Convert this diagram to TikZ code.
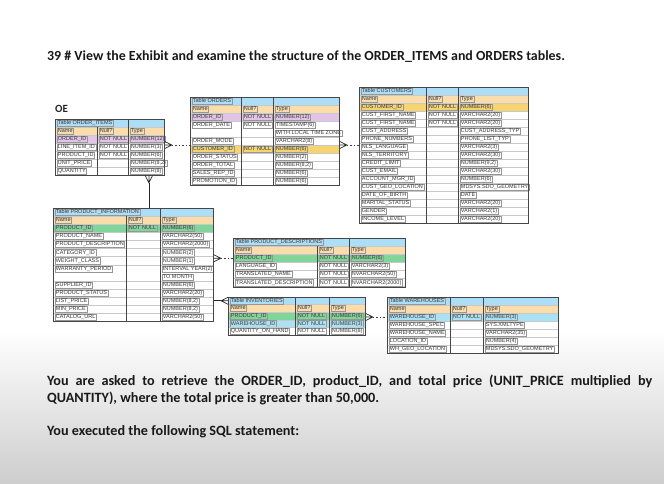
\documentclass[tikz,border=0pt]{standalone}
\usepackage{fontspec}
\setmainfont{Carlito}
\newfontfamily\tblfont{Liberation Sans}

\definecolor{titleblue}{RGB}{173,222,247}
\definecolor{headpeach}{RGB}{250,221,170}
\definecolor{pkpink}{RGB}{226,196,232}
\definecolor{custyellow}{RGB}{246,212,112}
\definecolor{prodgreen}{RGB}{128,214,152}
\definecolor{whcyan}{RGB}{170,226,245}
\definecolor{tblborder}{RGB}{70,70,70}
\definecolor{sepgray}{RGB}{200,200,200}
\definecolor{boxgray}{RGB}{150,150,150}
\definecolor{celltxt}{RGB}{55,55,55}
\definecolor{bgshade}{RGB}{205,205,205}

\tikzset{
  qtext/.style={anchor=west, inner sep=0, text=black!90,
                font=\bfseries\fontsize{13.9}{17}\selectfont},
  asktext/.style={qtext, font=\bfseries\fontsize{14.2}{17}\selectfont},
  tblrow/.style={anchor=north west, inner sep=0, outer sep=0,
                 draw=sepgray, line width=0.3pt},
  tblframe/.style={anchor=north west, inner sep=0, draw=tblborder, line width=0.9pt},
  tbldiv/.style={draw=tblborder, line width=0.7pt},
  celltext/.style={anchor=west, draw=boxgray, line width=0.25pt, text=celltxt,
                   inner xsep=0.8pt, inner ysep=0.5pt, text height=4.1pt, text depth=1.1pt,
                   font=\tblfont\fontsize{5.5}{6}\selectfont},
  plainrow/.style={fill=white},
  pkrow/.style={fill=pkpink},
  custrow/.style={fill=custyellow},
  prodrow/.style={fill=prodgreen},
  whrow/.style={fill=whcyan},
  crowline/.style={draw=black!85, line width=0.7pt},
  relline/.style={draw=black!85, line width=0.7pt},
  reldash/.style={draw=black!75, line width=0.6pt, dash pattern=on 1.5pt off 2pt},
}

% text only when the field is not empty
\newcommand{\whenfilled}[2]{\if\relax\detokenize\expandafter{#1}\relax\else#2\fi}

% #1 name, #2 top left, #3 widths/row height/rows, #4 title, #5 rows
\newcommand{\erTable}[5]{%
  \foreach \wname/\wnull/\wtype/\rowh/\nrows in {#3}{%
    \begin{scope}[shift={#2}]
      \pgfmathsetmacro{\tblw}{\wname+\wnull+\wtype}
      \pgfmathsetmacro{\tblh}{(\nrows+2)*\rowh}
      \node[tblrow, fill=titleblue, minimum width=\tblw pt, minimum height=\rowh pt] (#1-title) at (0,0) {};
      \node[tblrow, fill=headpeach, minimum width=\tblw pt, minimum height=\rowh pt] (#1-head) at (0,\rowh) {};
      \node[celltext] at (2,1.5*\rowh) {Name};
      \node[celltext] at (\wname+2,1.5*\rowh) {Null?};
      \node[celltext] at (\wname+\wnull+2,1.5*\rowh) {Type};
      \foreach \ri/\kl/\cname/\cnull/\ctype/\ctypeb/\rowst in {#5}{%
        \pgfmathsetmacro{\ytop}{(2+\ri)*\rowh}
        \node[tblrow, \rowst, minimum width=\tblw pt, minimum height={\kl*\rowh*1pt}] (#1-\ri) at (0,\ytop) {};
        \node[celltext] at (2,\ytop+\rowh/2) {\cname};
        \whenfilled{\cnull}{\node[celltext] at (\wname+2,\ytop+\rowh/2) {\cnull};}
        \node[celltext] at (\wname+\wnull+2,\ytop+\rowh/2) {\ctype};
        \whenfilled{\ctypeb}{\node[celltext] at (\wname+\wnull+2,\ytop+1.5*\rowh) {\ctypeb};}
      }
      \draw[tbldiv] (\wname,0) -- (\wname,\tblh)
                    (\wname+\wnull,0) -- (\wname+\wnull,\tblh);
      \node[celltext, fill=titleblue] at (2,\rowh/2) {Table #4};
      \node[tblframe, minimum width=\tblw pt, minimum height=\tblh pt] (#1) at (0,0) {};
    \end{scope}}}

% #1 point on the table edge, #2 direction
\newcommand{\crowfoot}[2]{%
  \draw[crowline, shift={(#1)}, rotate=#2] (0,3.5) -- (7,0) -- (0,-3.5) (0,0) -- (7,0);}

\begin{document}
\begin{tikzpicture}[x=1pt, y=-1pt]
\useasboundingbox (0,0) rectangle (664,484);
\fill[white] (0,0) rectangle (664,330);
\shade[top color=white, bottom color=bgshade] (0,330) rectangle (664,484);

\node[qtext] (title) at (47,57) {39 \# View the Exhibit and examine the structure of the ORDER\_ITEMS and ORDERS tables.};
\node[anchor=west, inner sep=0, font=\bfseries\fontsize{11}{13}\selectfont, text=black!85] (oe) at (55,109) {OE};

\erTable{oitems}{(55,119)}{42/31/36/8/5}{ORDER\_ITEMS}{%
  0/1/ORDER\_ID/NOT NULL/NUMBER(12)//pkrow,
  1/1/LINE\_ITEM\_ID/NOT NULL/NUMBER(3)//plainrow,
  2/1/PRODUCT\_ID/NOT NULL/NUMBER(6)//plainrow,
  3/1/UNIT\_PRICE//{NUMBER(8,2)}//plainrow,
  4/1/QUANTITY//NUMBER(8)//plainrow}

\erTable{orders}{(190,97)}{51/32/66/8/9}{ORDERS}{%
  0/1/ORDER\_ID/NOT NULL/NUMBER(12)//pkrow,
  1/2/ORDER\_DATE/NOT NULL/TIMESTAMP(6)/WITH LOCAL TIME ZONE/plainrow,
  3/1/ORDER\_MODE//VARCHAR2(8)//plainrow,
  4/1/CUSTOMER\_ID/NOT NULL/NUMBER(6)//custrow,
  5/1/ORDER\_STATUS//NUMBER(2)//plainrow,
  6/1/ORDER\_TOTAL//{NUMBER(8,2)}//plainrow,
  7/1/SALES\_REP\_ID//NUMBER(6)//plainrow,
  8/1/PROMOTION\_ID//NUMBER(6)//plainrow}

\erTable{customers}{(359,87)}{67/32/70/8/15}{CUSTOMERS}{%
  0/1/CUSTOMER\_ID/NOT NULL/NUMBER(6)//custrow,
  1/1/CUST\_FIRST\_NAME/NOT NULL/VARCHAR2(20)//plainrow,
  2/1/CUST\_FIRST\_NAME/NOT NULL/VARCHAR2(20)//plainrow,
  3/1/CUST\_ADDRESS//CUST\_ADDRESS\_TYP//plainrow,
  4/1/PHONE\_NUMBERS//PHONE\_LIST\_TYP//plainrow,
  5/1/NLS\_LANGUAGE//VARCHAR2(3)//plainrow,
  6/1/NLS\_TERRITORY//VARCHAR2(30)//plainrow,
  7/1/CREDIT\_LIMIT//{NUMBER(9,2)}//plainrow,
  8/1/CUST\_EMAIL//VARCHAR2(30)//plainrow,
  9/1/ACCOUNT\_MGR\_ID//NUMBER(6)//plainrow,
  10/1/CUST\_GEO\_LOCATION//MDSYS.SDO\_GEOMETRY//plainrow,
  11/1/DATE\_OF\_BIRTH//DATE//plainrow,
  12/1/MARITAL\_STATUS//VARCHAR2(20)//plainrow,
  13/1/GENDER//VARCHAR2(1)//plainrow,
  14/1/INCOME\_LEVEL//VARCHAR2(20)//plainrow}

\erTable{prodinfo}{(53,208)}{73/34/53/8.1/12}{PRODUCT\_INFORMATION}{%
  0/1/PRODUCT\_ID/NOT NULL/NUMBER(6)//prodrow,
  1/1/PRODUCT\_NAME//VARCHAR2(50)//plainrow,
  2/1/PRODUCT\_DESCRIPTION//VARCHAR2(2000)//plainrow,
  3/1/CATEGORY\_ID//NUMBER(2)//plainrow,
  4/1/WEIGHT\_CLASS//NUMBER(1)//plainrow,
  5/2/WARRANTY\_PERIOD//INTERVAL YEAR(2)/TO MONTH/plainrow,
  7/1/SUPPLIER\_ID//NUMBER(6)//plainrow,
  8/1/PRODUCT\_STATUS//VARCHAR2(20)//plainrow,
  9/1/LIST\_PRICE//{NUMBER(8,2)}//plainrow,
  10/1/MIN\_PRICE//{NUMBER(8,2)}//plainrow,
  11/1/CATALOG\_URL//VARCHAR2(50)//plainrow}

\erTable{proddesc}{(233,238)}{84/32/56/8.1/4}{PRODUCT\_DESCRIPTIONS}{%
  0/1/PRODUCT\_ID/NOT NULL/NUMBER(6)//prodrow,
  1/1/LANGUAGE\_ID/NOT NULL/VARCHAR2(3)//plainrow,
  2/1/TRANSLATED\_NAME/NOT NULL/NVARCHAR2(50)//plainrow,
  3/1/TRANSLATED\_DESCRIPTION/NOT NULL/NVARCHAR2(2000)//plainrow}

\erTable{inventories}{(228,297)}{67/34/36/7.6/3}{INVENTORIES}{%
  0/1/PRODUCT\_ID/NOT NULL/NUMBER(6)//prodrow,
  1/1/WAREHOUSE\_ID/NOT NULL/NUMBER(3)//whrow,
  2/1/QUANTITY\_ON\_HAND/NOT NULL/NUMBER(8)//plainrow}

\erTable{warehouses}{(387,297)}{63/33/75/8/5}{WAREHOUSES}{%
  0/1/WAREHOUSE\_ID/NOT NULL/NUMBER(3)//whrow,
  1/1/WAREHOUSE\_SPEC//SYS.XMLTYPE//plainrow,
  2/1/WAREHOUSE\_NAME//VARCHAR2(35)//plainrow,
  3/1/LOCATION\_ID//NUMBER(4)//plainrow,
  4/1/WH\_GEO\_LOCATION//MDSYS.SDO\_GEOMETRY//plainrow}

% relations
\coordinate (oi-ord) at (oitems.east |- orders-4.north);
\crowfoot{oi-ord}{0}
\draw[reldash] ([xshift=7pt]oi-ord) -- (orders.west |- oi-ord);

\coordinate (ord-cu) at (orders.east |- orders-4.north);
\crowfoot{ord-cu}{0}
\draw[reldash] ([xshift=7pt]ord-cu) -- (customers.west |- ord-cu);

\coordinate (oi-pi) at ([xshift=-16pt]oitems.south east);
\crowfoot{oi-pi}{-90}
\draw[relline] ([yshift=-7pt]oi-pi) -- (prodinfo.north -| oi-pi);

\coordinate (pi-pd) at (prodinfo.east |- proddesc-0);
\crowfoot{pi-pd}{0}
\draw[reldash] ([xshift=7pt]pi-pd) -- (proddesc-0.west);

\coordinate (pi-inv) at (inventories-title.west);
\crowfoot{pi-inv}{180}
\draw[relline] (prodinfo.east |- pi-inv) -- ([xshift=-7pt]pi-inv);

\coordinate (inv-wh) at (inventories.east |- warehouses-0);
\crowfoot{inv-wh}{0}
\draw[reldash] ([xshift=7pt]inv-wh) -- (warehouses-0.west);

\node[asktext] (ask1) at (47,381) {\makebox[605pt][s]{You are asked to retrieve the ORDER\_ID, product\_ID, and total price (UNIT\_PRICE multiplied by}};
\node[asktext] (ask2) at (47,398) {QUANTITY), where the total price is greater than 50,000.};
\node[asktext] (ask3) at (47,432) {You executed the following SQL statement:};
\end{tikzpicture}
\end{document}
